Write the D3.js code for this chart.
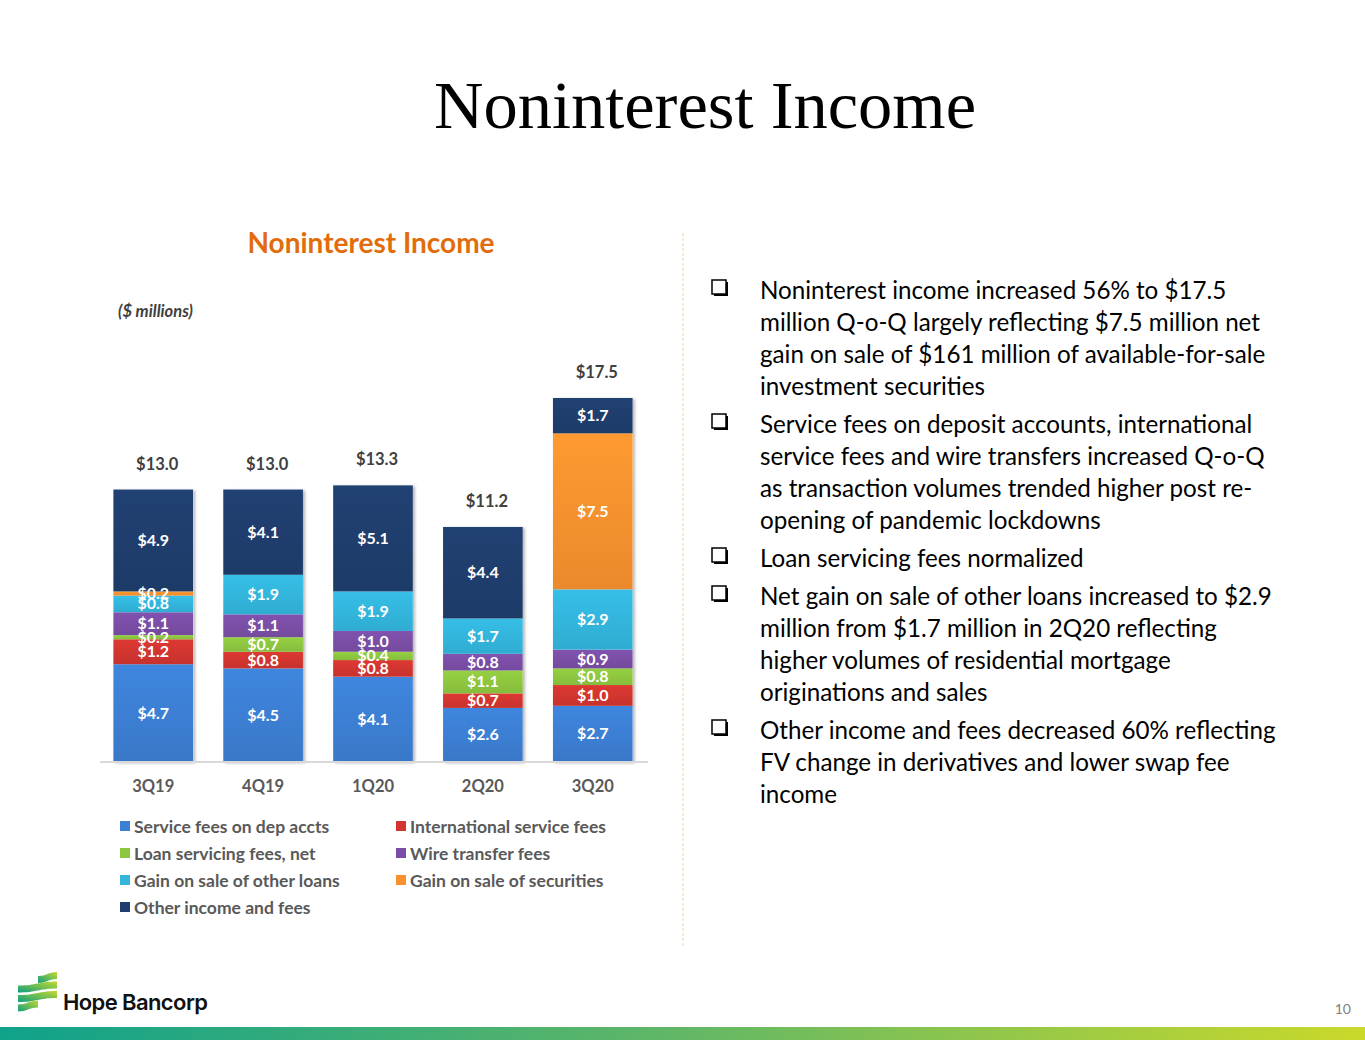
<!DOCTYPE html>
<html><head><meta charset="utf-8">
<script src="https://cdn.jsdelivr.net/npm/d3@7"></script>
<style>
html,body{margin:0;padding:0;background:#fff;}
svg{display:block;}
</style></head>
<body>
<svg id="c" width="1365" height="1055"></svg>
<script>
// ---- data ----
const quarters = ["3Q19","4Q19","1Q20","2Q20","3Q20"];
const seriesNames = ["Service fees on dep accts","International service fees","Loan servicing fees, net","Wire transfer fees","Gain on sale of other loans","Gain on sale of securities","Other income and fees"];
const serviceFees   = [4.7,4.5,4.1,2.6,2.7];
const intlFees      = [1.2,0.8,0.8,0.7,1.0];
const loanServicing = [0.2,0.7,0.4,1.1,0.8];
const wireFees      = [1.1,1.1,1.0,0.8,0.9];
const gainLoans     = [0.8,1.9,1.9,1.7,2.9];
const gainSecurities= [0.2,0,0,0,7.5];
const otherIncome   = [4.9,4.1,5.1,4.4,1.7];
const totals        = [13.0,13.0,13.3,11.2,17.5];
const colors = ["#3C7FD3","#D2352F","#8DC63F","#7A4EA6","#33B5DC","#F7922E","#1F3E6D"];

const bullets = [
 ["Noninterest income increased 56% to $17.5","million Q-o-Q largely reflecting $7.5 million net","gain on sale of $161 million of available-for-sale","investment securities"],
 ["Service fees on deposit accounts, international","service fees and wire transfers increased Q-o-Q","as transaction volumes trended higher post re-","opening of pandemic lockdowns"],
 ["Loan servicing fees normalized"],
 ["Net gain on sale of other loans increased to $2.9","million from $1.7 million in 2Q20 reflecting","higher volumes of residential mortgage","originations and sales"],
 ["Other income and fees decreased 60% reflecting","FV change in derivatives and lower swap fee","income"]
];

const svg = d3.select("#c");
const F = "Lato, 'Open Sans', sans-serif";
const defs = svg.append("defs");

// gradients
const bg = defs.append("linearGradient").attr("id","bottomGrad").attr("x1","0").attr("x2","1");
bg.append("stop").attr("offset","0").attr("stop-color","#0FA28B");
bg.append("stop").attr("offset","0.5").attr("stop-color","#62B766");
bg.append("stop").attr("offset","1").attr("stop-color","#CAD92A");
colors.forEach((c,i)=>{
  const g = defs.append("linearGradient").attr("id","sg"+i).attr("x1","0").attr("x2","0").attr("y1","0").attr("y2","1");
  g.append("stop").attr("offset","0").attr("stop-color",d3.color(c).brighter(0.15));
  g.append("stop").attr("offset","1").attr("stop-color",d3.color(c).darker(0.15));
});
const flt = defs.append("filter").attr("id","sh").attr("x","-10%").attr("y","-10%").attr("width","130%").attr("height","130%");
flt.append("feDropShadow").attr("dx",2).attr("dy",1).attr("stdDeviation",1.5).attr("flood-color","#000").attr("flood-opacity",0.3);

// page title
svg.append("text").attr("x",705).attr("y",128).attr("text-anchor","middle")
  .attr("font-family","'Liberation Serif','Times New Roman',serif").attr("font-size",68.5).attr("fill","#000")
  .text("Noninterest Income");

// chart title
svg.append("text").attr("x",371).attr("y",253).attr("text-anchor","middle")
  .attr("font-family",F).attr("font-weight","bold").attr("font-size",28).attr("fill","#E36C0A")
  .text("Noninterest Income");
svg.append("text").attr("x",118).attr("y",317)
  .attr("font-family",F).attr("font-weight","bold").attr("font-style","italic").attr("font-size",16.5).attr("fill","#404040")
  .text("($ millions)");

// separator
svg.append("line").attr("x1",683).attr("x2",683).attr("y1",233).attr("y2",947)
  .attr("stroke","#F1D9B5").attr("stroke-width",1.2).attr("stroke-dasharray","3,2");

// scales
const x = d3.scaleBand().domain(quarters).range([98,648]).paddingInner(0.275).paddingOuter(0.14);
const y = d3.scaleLinear().domain([0,17.5]).range([762,398]);

const series = [serviceFees,intlFees,loanServicing,wireFees,gainLoans,gainSecurities,otherIncome];
const table = quarters.map((q,i)=>{const o={q}; seriesNames.forEach((s,j)=>o[s]=series[j][i]); return o;});
const stack = d3.stack().keys(seriesNames)(table);

const gBars = svg.append("g");
quarters.forEach((q,i)=>{
  const top = d3.sum(series,s=>s[i]);
  gBars.append("rect").attr("x",x(q)).attr("width",x.bandwidth())
    .attr("y",y(top)).attr("height",y(0)-y(top)).attr("fill","#fff").attr("filter","url(#sh)");
});
stack.forEach((layer,j)=>{
  gBars.selectAll(null).data(layer).join("rect")
    .attr("x",d=>x(d.data.q)).attr("width",x.bandwidth())
    .attr("y",d=>y(d[1])).attr("height",d=>Math.max(0,y(d[0])-y(d[1])))
    .attr("fill","url(#sg"+j+")");
});
// segment labels
stack.forEach((layer,j)=>{
  gBars.selectAll(null).data(layer.filter(d=>d[1]-d[0]>0)).join("text")
    .attr("x",d=>x(d.data.q)+x.bandwidth()/2).attr("y",d=>(y(d[0])+y(d[1]))/2+5.5)
    .attr("text-anchor","middle").attr("font-family",F).attr("font-weight","bold").attr("font-size",16)
    .attr("fill","#fff").text(d=>"$"+(d[1]-d[0]).toFixed(1));
});
// totals
gBars.selectAll(null).data(quarters).join("text")
  .attr("x",(q)=>x(q)+x.bandwidth()/2+4).attr("y",(q,i)=>y(d3.sum(series,s=>s[i]))-20)
  .attr("text-anchor","middle").attr("font-family",F).attr("font-weight","bold").attr("font-size",16.5)
  .attr("fill","#404040").text((q,i)=>"$"+totals[i].toFixed(1));

// axis
const ax = svg.append("g").attr("transform","translate(0,762)").call(d3.axisBottom(x).tickSize(0).tickPadding(18));
ax.select(".domain").attr("stroke","#D9D9D9").attr("stroke-width",2).attr("d","M100,0H648");
ax.selectAll("text").attr("font-family",F).attr("font-weight","bold").attr("font-size",16.5).attr("fill","#595959");

// legend
const lg = svg.append("g");
seriesNames.forEach((s,i)=>{
  const col = i%2, row = Math.floor(i/2);
  const gx = 120 + col*276, gy = 826 + row*27;
  lg.append("rect").attr("x",gx).attr("y",gy-5).attr("width",10).attr("height",10).attr("fill",colors[i]);
  lg.append("text").attr("x",gx+14).attr("y",gy+6.5).attr("font-family",F).attr("font-weight","bold")
    .attr("font-size",17.5).attr("fill","#595959").text(s);
});

// bullets
const bt = svg.append("g");
const lineH = 32;
let yy = 290;
bullets.forEach((b,bi)=>{
  const g = bt.append("g");
  g.append("rect").attr("x",714).attr("y",yy-8).attr("width",14).attr("height",14).attr("fill","#000");
  g.append("rect").attr("x",712).attr("y",yy-10).attr("width",14).attr("height",14).attr("fill","#fff").attr("stroke","#000").attr("stroke-width",1.5);
  b.forEach((line,li)=>{
    g.append("text").attr("x",760).attr("y",yy+8.5).attr("font-family",F).attr("font-size",24.2).attr("fill","#000").text(line);
    yy += lineH;
  });
  yy += 6;
});

// logo
const logo = svg.append("g").attr("transform","translate(18,972)");
const lgGrad = defs.append("linearGradient").attr("id","lgG").attr("x1","0").attr("x2","1").attr("y1","1").attr("y2","0");
lgGrad.append("stop").attr("offset","0").attr("stop-color","#0E9F7E");
lgGrad.append("stop").attr("offset","1").attr("stop-color","#C3D92E");
[[20,0,39],[0,9.5,39],[0,19,39],[0,28.5,20]].forEach(r=>{
  const x0=r[0], x1=r[2], yt=r[1], h=7, drop=4;
  const xm=(x0+x1)/2;
  logo.append("path").attr("d",
    `M${x0},${yt+drop} C${xm},${yt+drop} ${xm},${yt} ${x1},${yt} V${yt+h} C${xm},${yt+h} ${xm},${yt+h+drop} ${x0},${yt+h+drop} Z`)
    .attr("fill","url(#lgG)");
});
svg.append("text").attr("x",63).attr("y",1010).attr("font-family","Inter, 'Liberation Sans', sans-serif").attr("font-weight","600")
  .attr("font-size",22).attr("letter-spacing",-0.6).attr("fill","#111").text("Hope Bancorp");
svg.append("text").attr("x",1351).attr("y",1014).attr("text-anchor","end").attr("font-family",F)
  .attr("font-size",14).attr("fill","#7F7F7F").text("10");
svg.append("rect").attr("x",0).attr("y",1027).attr("width",1365).attr("height",13).attr("fill","url(#bottomGrad)");
</script>
</body></html>
